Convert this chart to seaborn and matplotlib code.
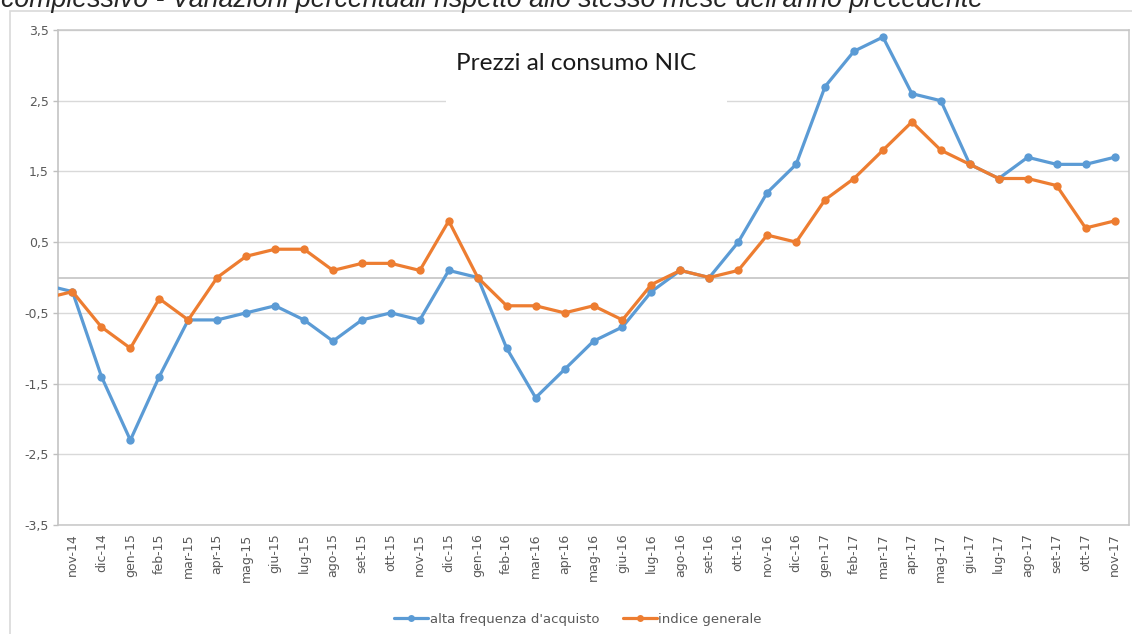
import matplotlib
matplotlib.use("Agg")
import matplotlib.pyplot as plt
import matplotlib.patches as mpatches
from matplotlib.lines import Line2D
import seaborn as sns
import pandas as pd

# ---- data ----
months = ["ott-14",
          "nov-14", "dic-14", "gen-15", "feb-15", "mar-15", "apr-15", "mag-15", "giu-15",
          "lug-15", "ago-15", "set-15", "ott-15", "nov-15", "dic-15", "gen-16", "feb-16",
          "mar-16", "apr-16", "mag-16", "giu-16", "lug-16", "ago-16", "set-16", "ott-16",
          "nov-16", "dic-16", "gen-17", "feb-17", "mar-17", "apr-17", "mag-17", "giu-17",
          "lug-17", "ago-17", "set-17", "ott-17", "nov-17"]

alta_frequenza = [-0.1,
                  -0.2, -1.4, -2.3, -1.4, -0.6, -0.6, -0.5, -0.4,
                  -0.6, -0.9, -0.6, -0.5, -0.6, 0.1, 0.0, -1.0,
                  -1.7, -1.3, -0.9, -0.7, -0.2, 0.1, 0.0, 0.5,
                  1.2, 1.6, 2.7, 3.2, 3.4, 2.6, 2.5, 1.6,
                  1.4, 1.7, 1.6, 1.6, 1.7]

indice_generale = [-0.3,
                   -0.2, -0.7, -1.0, -0.3, -0.6, 0.0, 0.3, 0.4,
                   0.4, 0.1, 0.2, 0.2, 0.1, 0.8, 0.0, -0.4,
                   -0.4, -0.5, -0.4, -0.6, -0.1, 0.1, 0.0, 0.1,
                   0.6, 0.5, 1.1, 1.4, 1.8, 2.2, 1.8, 1.6,
                   1.4, 1.4, 1.3, 0.7, 0.8]

series_names = ["alta frequenza d'acquisto", "indice generale"]
series_colors = ["#5B9BD5", "#ED7D31"]
y_ticks = [3.5, 2.5, 1.5, 0.5, -0.5, -1.5, -2.5, -3.5]
y_tick_labels = ["3,5", "2,5", "1,5", "0,5", "-0,5", "-1,5", "-2,5", "-3,5"]
chart_title = "Prezzi al consumo NIC"
top_text = "complessivo - Variazioni percentuali rispetto allo stesso mese dell'anno precedente"

# ---- figure ----
sns.set_theme(style="white")
plt.rcParams["font.family"] = ["DejaVu Sans"]

W, H = 1132, 634
fig = plt.figure(figsize=(W / 100, H / 100), dpi=100)
fig.patch.set_facecolor("white")

# outer chart frame
frame = mpatches.Rectangle((10 / W, -0.05), 2.0, (1 - 11 / H) + 0.05,
                           transform=fig.transFigure, fill=False,
                           edgecolor="#D9D9D9", lw=1.2, zorder=0)
fig.patches.append(frame)

# italic text at top (cut by the upper edge as in the original)
fig.text(1 / W, 1 - 7 / H, top_text, ha="left", va="baseline",
         fontsize=19.3, style="italic", family=["Liberation Sans"], color="#262626")

ax = fig.add_axes([58 / W, 1 - 525 / H, (1129 - 58) / W, (525 - 30) / H])
ax.set_facecolor("white")

pos = list(range(len(months)))
df = pd.DataFrame({
    "pos": pos * 2,
    "val": alta_frequenza + indice_generale,
    "serie": [series_names[0]] * len(months) + [series_names[1]] * len(months),
})

for name, col in zip(series_names, series_colors):
    sns.lineplot(data=df[df["serie"] == name], x="pos", y="val", ax=ax,
                 color=col, lw=2.3, marker="o", markersize=6,
                 markeredgewidth=0, sort=False, legend=False, zorder=3)

ax.set_xticks(pos)
ax.set_xticklabels(months, rotation=90, fontsize=9, color="#595959")
ax.set_yticks(y_ticks)
ax.set_yticklabels(y_tick_labels, fontsize=9, color="#595959")
ax.set_xlim(0.5, len(months) - 0.5)
ax.set_ylim(-3.5, 3.5)
ax.tick_params(axis="x", length=0, pad=6)
ax.tick_params(axis="y", length=3.5, width=1, color="#BFBFBF", pad=3, left=True)
ax.set_xlabel("")
ax.set_ylabel("")

ax.grid(axis="y", color="#D9D9D9", lw=1)
ax.grid(axis="x", visible=False)
ax.set_axisbelow(True)
ax.axhline(0, color="#BFBFBF", lw=1.1, zorder=1.5)
for s in ax.spines.values():
    s.set_visible(True)
    s.set_color("#C6C6C6")
    s.set_linewidth(1.1)
ax.spines["left"].set_color("#BFBFBF")

# white box behind title
x0 = (446 - 58) / (1129 - 58)
x1 = (727 - 58) / (1129 - 58)
yb = 1 - (106 - 30) / 495
yt = 1 - (33 - 30) / 495
ax.add_patch(mpatches.Rectangle((x0, yb), x1 - x0, yt - yb, transform=ax.transAxes,
                                facecolor="white", edgecolor="none", zorder=1))
ax.text((576 - 58) / (1129 - 58), 1 - (70.5 - 30) / 495, chart_title,
        transform=ax.transAxes, ha="center", va="baseline", fontsize=17.6,
        family=["Lato"], color="#1a1a1a", zorder=4)

handles = [Line2D([0], [0], color=c, lw=2.3, marker="o", markersize=5,
                  markeredgewidth=0) for c in series_colors]
leg = fig.legend(handles, series_names, loc="center", ncol=2,
                 bbox_to_anchor=(578 / W, 1 - 619 / H), frameon=False,
                 fontsize=9.5, handlelength=2.6, handletextpad=0.1,
                 columnspacing=1.8, labelcolor="#595959")

fig.savefig("out.png", dpi=100, facecolor="white")
